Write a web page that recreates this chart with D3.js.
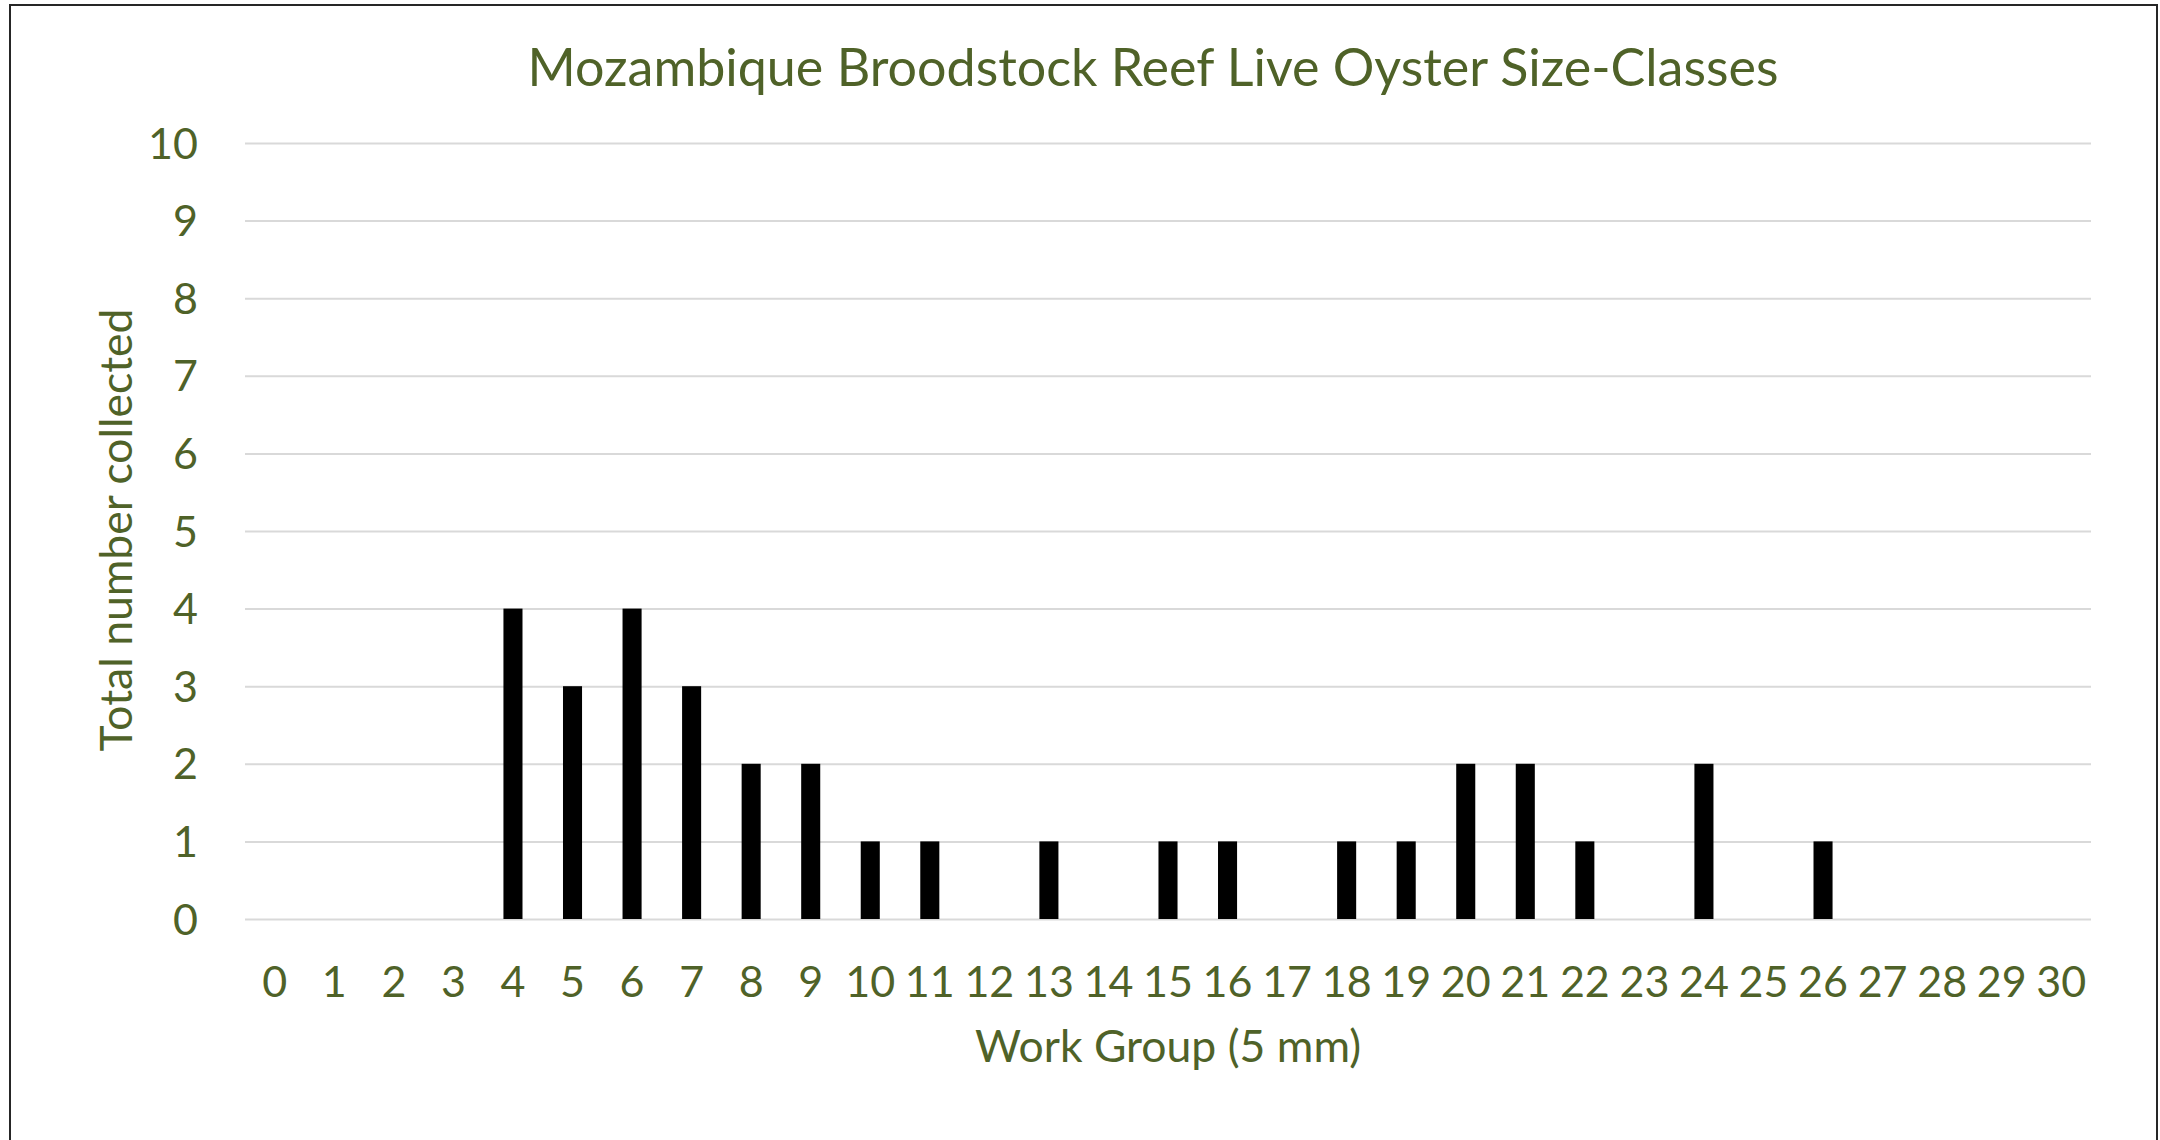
<!DOCTYPE html>
<html>
<head>
<meta charset="utf-8">
<script src="https://cdn.jsdelivr.net/npm/d3@7"></script>
<style>
  body { margin: 0; background: #fff; }
  text { font-family: Lato, "Open Sans", sans-serif; fill: #4F6228; }
</style>
</head>
<body>
<div id="chart-area"></div>
<script>
// data
const groups = d3.range(0, 31).map(String);
const counts = [0, 0, 0, 0, 4, 3, 4, 3, 2, 2, 1, 1, 0, 1, 0, 1, 1, 0, 1, 1, 2, 2, 1, 0, 2, 0, 1, 0, 0, 0, 0];
const yTicks = [0, 1, 2, 3, 4, 5, 6, 7, 8, 9, 10];

const W = 2160, H = 1140;
const MARGIN = { LEFT: 245, RIGHT: 69, TOP: 143, BOTTOM: 221 };
const WIDTH = W - MARGIN.LEFT - MARGIN.RIGHT;
const HEIGHT = H - MARGIN.TOP - MARGIN.BOTTOM;

const svg = d3.select('#chart-area').append('svg')
    .attr('width', W)
    .attr('height', H);

// chart border (bottom edge runs off the picture)
svg.append('rect')
    .attr('x', 10)
    .attr('y', 5)
    .attr('width', 2147)
    .attr('height', 1160)
    .attr('fill', 'none')
    .attr('stroke', '#262626')
    .attr('stroke-width', 2);

const g = svg.append('g')
    .attr('transform', `translate(${MARGIN.LEFT}, ${MARGIN.TOP})`);

// scales
const x = d3.scaleBand()
    .domain(groups)
    .range([0, WIDTH])
    .paddingInner(0.68)
    .paddingOuter(0.34);

const y = d3.scaleLinear()
    .domain([0, 10])
    .range([HEIGHT, 0]);

// y axis + gridlines
const yAxisCall = d3.axisLeft(y)
    .tickValues(yTicks)
    .tickSize(-WIDTH)
    .tickPadding(47)
    .tickFormat(d3.format('d'));
const yAxis = g.append('g')
    .attr('class', 'y-axis')
    .call(yAxisCall);
yAxis.select('.domain').remove();
yAxis.selectAll('line')
    .attr('stroke', '#D9D9D9')
    .attr('stroke-width', 2);
yAxis.selectAll('text')
    .attr('font-size', '43px')
    .attr('dy', '0.35em')
    .style('fill', '#4F6228');

// x axis
const xAxisCall = d3.axisBottom(x)
    .tickSize(0)
    .tickPadding(47);
const xAxis = g.append('g')
    .attr('class', 'x-axis')
    .attr('transform', `translate(0, ${HEIGHT})`)
    .call(xAxisCall);
xAxis.select('.domain').remove();
xAxis.selectAll('text')
    .attr('font-size', '43px')
    .style('fill', '#4F6228');

// bars
g.selectAll('rect.bar')
    .data(counts.map((v, i) => ({ group: groups[i], value: v })).filter(d => d.value > 0))
    .enter().append('rect')
    .attr('class', 'bar')
    .attr('x', d => x(d.group))
    .attr('y', d => y(d.value))
    .attr('width', x.bandwidth())
    .attr('height', d => HEIGHT - y(d.value))
    .attr('fill', '#000');

// title
svg.append('text')
    .attr('x', 1153)
    .attr('y', 86)
    .attr('font-size', '52px')
    .attr('text-anchor', 'middle')
    .text('Mozambique Broodstock Reef Live Oyster Size-Classes');

// x label
g.append('text')
    .attr('x', WIDTH / 2)
    .attr('y', HEIGHT + 143)
    .attr('font-size', '44.5px')
    .attr('text-anchor', 'middle')
    .text('Work Group (5 mm)');

// y label
svg.append('text')
    .attr('transform', 'translate(132, 530) rotate(-90)')
    .attr('font-size', '44.5px')
    .attr('text-anchor', 'middle')
    .text('Total number collected');
</script>
</body>
</html>
